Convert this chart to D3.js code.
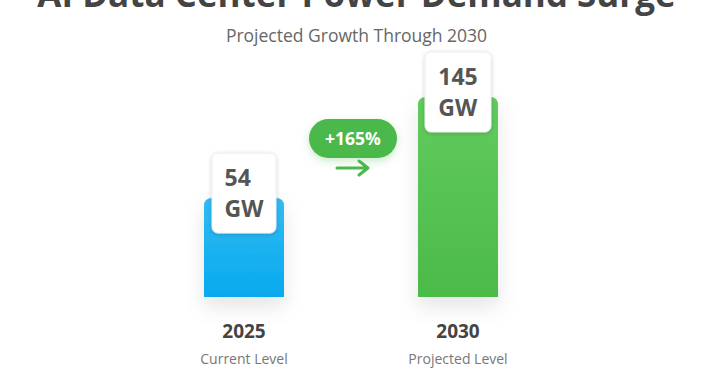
<!DOCTYPE html>
<html>
<head>
<meta charset="utf-8">
<script src="https://cdn.jsdelivr.net/npm/d3@7"></script>
<style>
  body { margin: 0; background: #fff; }
  svg text { font-family: "Open Sans", sans-serif; }
</style>
</head>
<body>
<div id="chart"></div>
<script>
// chart data
const years = ["2025", "2030"];
const values = [54, 145];
const units = ["GW", "GW"];
const subLabels = ["Current Level", "Projected Level"];
const growthLabel = "+165%";

const width = 713, height = 376;

const svg = d3.select("#chart")
  .append("svg")
  .attr("width", width)
  .attr("height", height);

const defs = svg.append("defs");

// gradients for the bars
const gradColors = [["#33bbf2", "#06a9ee"], ["#62cb5e", "#4bba49"]];
gradColors.forEach((c, i) => {
  const g = defs.append("linearGradient")
    .attr("id", "grad" + i)
    .attr("x1", 0).attr("y1", 0).attr("x2", 0).attr("y2", 1);
  g.append("stop").attr("offset", "0%").attr("stop-color", c[0]);
  g.append("stop").attr("offset", "100%").attr("stop-color", c[1]);
});

// soft shadows
const shadow = defs.append("filter").attr("id", "shadow")
  .attr("x", "-50%").attr("y", "-30%").attr("width", "200%").attr("height", "170%");
shadow.append("feDropShadow")
  .attr("dx", 0).attr("dy", 10).attr("stdDeviation", 10)
  .attr("flood-color", "#000").attr("flood-opacity", 0.1);

const boxShadow = defs.append("filter").attr("id", "boxShadow")
  .attr("x", "-30%").attr("y", "-30%").attr("width", "160%").attr("height", "160%");
boxShadow.append("feDropShadow")
  .attr("dx", 0).attr("dy", 1).attr("stdDeviation", 2)
  .attr("flood-color", "#000").attr("flood-opacity", 0.18);

const pillShadow = defs.append("filter").attr("id", "pillShadow")
  .attr("x", "-30%").attr("y", "-40%").attr("width", "160%").attr("height", "190%");
pillShadow.append("feDropShadow")
  .attr("dx", 0).attr("dy", 3).attr("stdDeviation", 4)
  .attr("flood-color", "#4bba49").attr("flood-opacity", 0.3);

// Title (partly clipped at the top in the original)
svg.append("text")
  .attr("x", width / 2)
  .attr("y", 7)
  .attr("text-anchor", "middle")
  .attr("font-size", "35px")
  .attr("font-weight", "bold")
  .attr("fill", "#444")
  .text("AI Data Center Power Demand Surge");

svg.append("text")
  .attr("x", width / 2)
  .attr("y", 42)
  .attr("text-anchor", "middle")
  .attr("font-size", "17.5px")
  .attr("fill", "#666")
  .text("Projected Growth Through 2030");

// scales
const x = d3.scalePoint()
  .domain(years)
  .range([244, 458]);

const y = d3.scaleLinear()
  .domain([-35, 145])
  .range([297, 97]);

const barW = 80;
const r = 8;

function topRounded(x0, y0, w, h, rr) {
  return `M${x0},${y0 + h}V${y0 + rr}Q${x0},${y0} ${x0 + rr},${y0}` +
    `H${x0 + w - rr}Q${x0 + w},${y0} ${x0 + w},${y0 + rr}V${y0 + h}Z`;
}

const bars = svg.append("g");
years.forEach((yr, i) => {
  const cx = x(yr);
  const x0 = cx - barW / 2;
  const y0 = y(values[i]);
  const h = y(-35) - y0;

  bars.append("path")
    .attr("d", topRounded(x0, y0, barW, h, r))
    .attr("fill", `url(#grad${i})`)
    .attr("filter", "url(#shadow)");

  // value box
  const bw = i === 0 ? 64 : 66, bh = 80;
  const by = y0 - 45;
  bars.append("rect")
    .attr("x", cx - bw / 2)
    .attr("y", by)
    .attr("width", bw)
    .attr("height", bh)
    .attr("rx", 6)
    .attr("fill", "#fff")
    .attr("stroke", "#eee")
    .attr("filter", "url(#boxShadow)");

  const lines = [String(values[i]), units[i]];
  const tg = bars.append("g");
  const texts = lines.map((t, j) => tg.append("text")
    .attr("y", by + 33 + j * 31)
    .attr("font-size", "23px")
    .attr("font-weight", "bold")
    .attr("fill", "#555")
    .text(t));
  const maxW = d3.max(texts, t => t.node().getComputedTextLength());
  texts.forEach(t => t.attr("x", cx - maxW / 2));

  // year + label
  svg.append("text")
    .attr("x", cx)
    .attr("y", 338)
    .attr("text-anchor", "middle")
    .attr("font-size", "19px")
    .attr("font-weight", "bold")
    .attr("fill", "#444")
    .text(yr);

  svg.append("text")
    .attr("x", cx)
    .attr("y", 364)
    .attr("text-anchor", "middle")
    .attr("font-size", "14px")
    .attr("fill", "#777")
    .text(subLabels[i]);
});

// growth pill
const midX = (x(years[0]) + x(years[1])) / 2 + 2;
svg.append("rect")
  .attr("x", midX - 44)
  .attr("y", 119)
  .attr("width", 88)
  .attr("height", 39)
  .attr("rx", 19.5)
  .attr("fill", "#4cb84c")
  .attr("filter", "url(#pillShadow)");

svg.append("text")
  .attr("x", midX)
  .attr("y", 145)
  .attr("text-anchor", "middle")
  .attr("font-size", "17.5px")
  .attr("font-weight", "bold")
  .attr("fill", "#fff")
  .text(growthLabel);

// arrow
svg.append("path")
  .attr("d", `M${midX - 16},168H${midX + 14}M${midX + 6},161L${midX + 15},168L${midX + 6},175`)
  .attr("fill", "none")
  .attr("stroke", "#4cb84c")
  .attr("stroke-width", 3)
  .attr("stroke-linecap", "round")
  .attr("stroke-linejoin", "round");
</script>
</body>
</html>
